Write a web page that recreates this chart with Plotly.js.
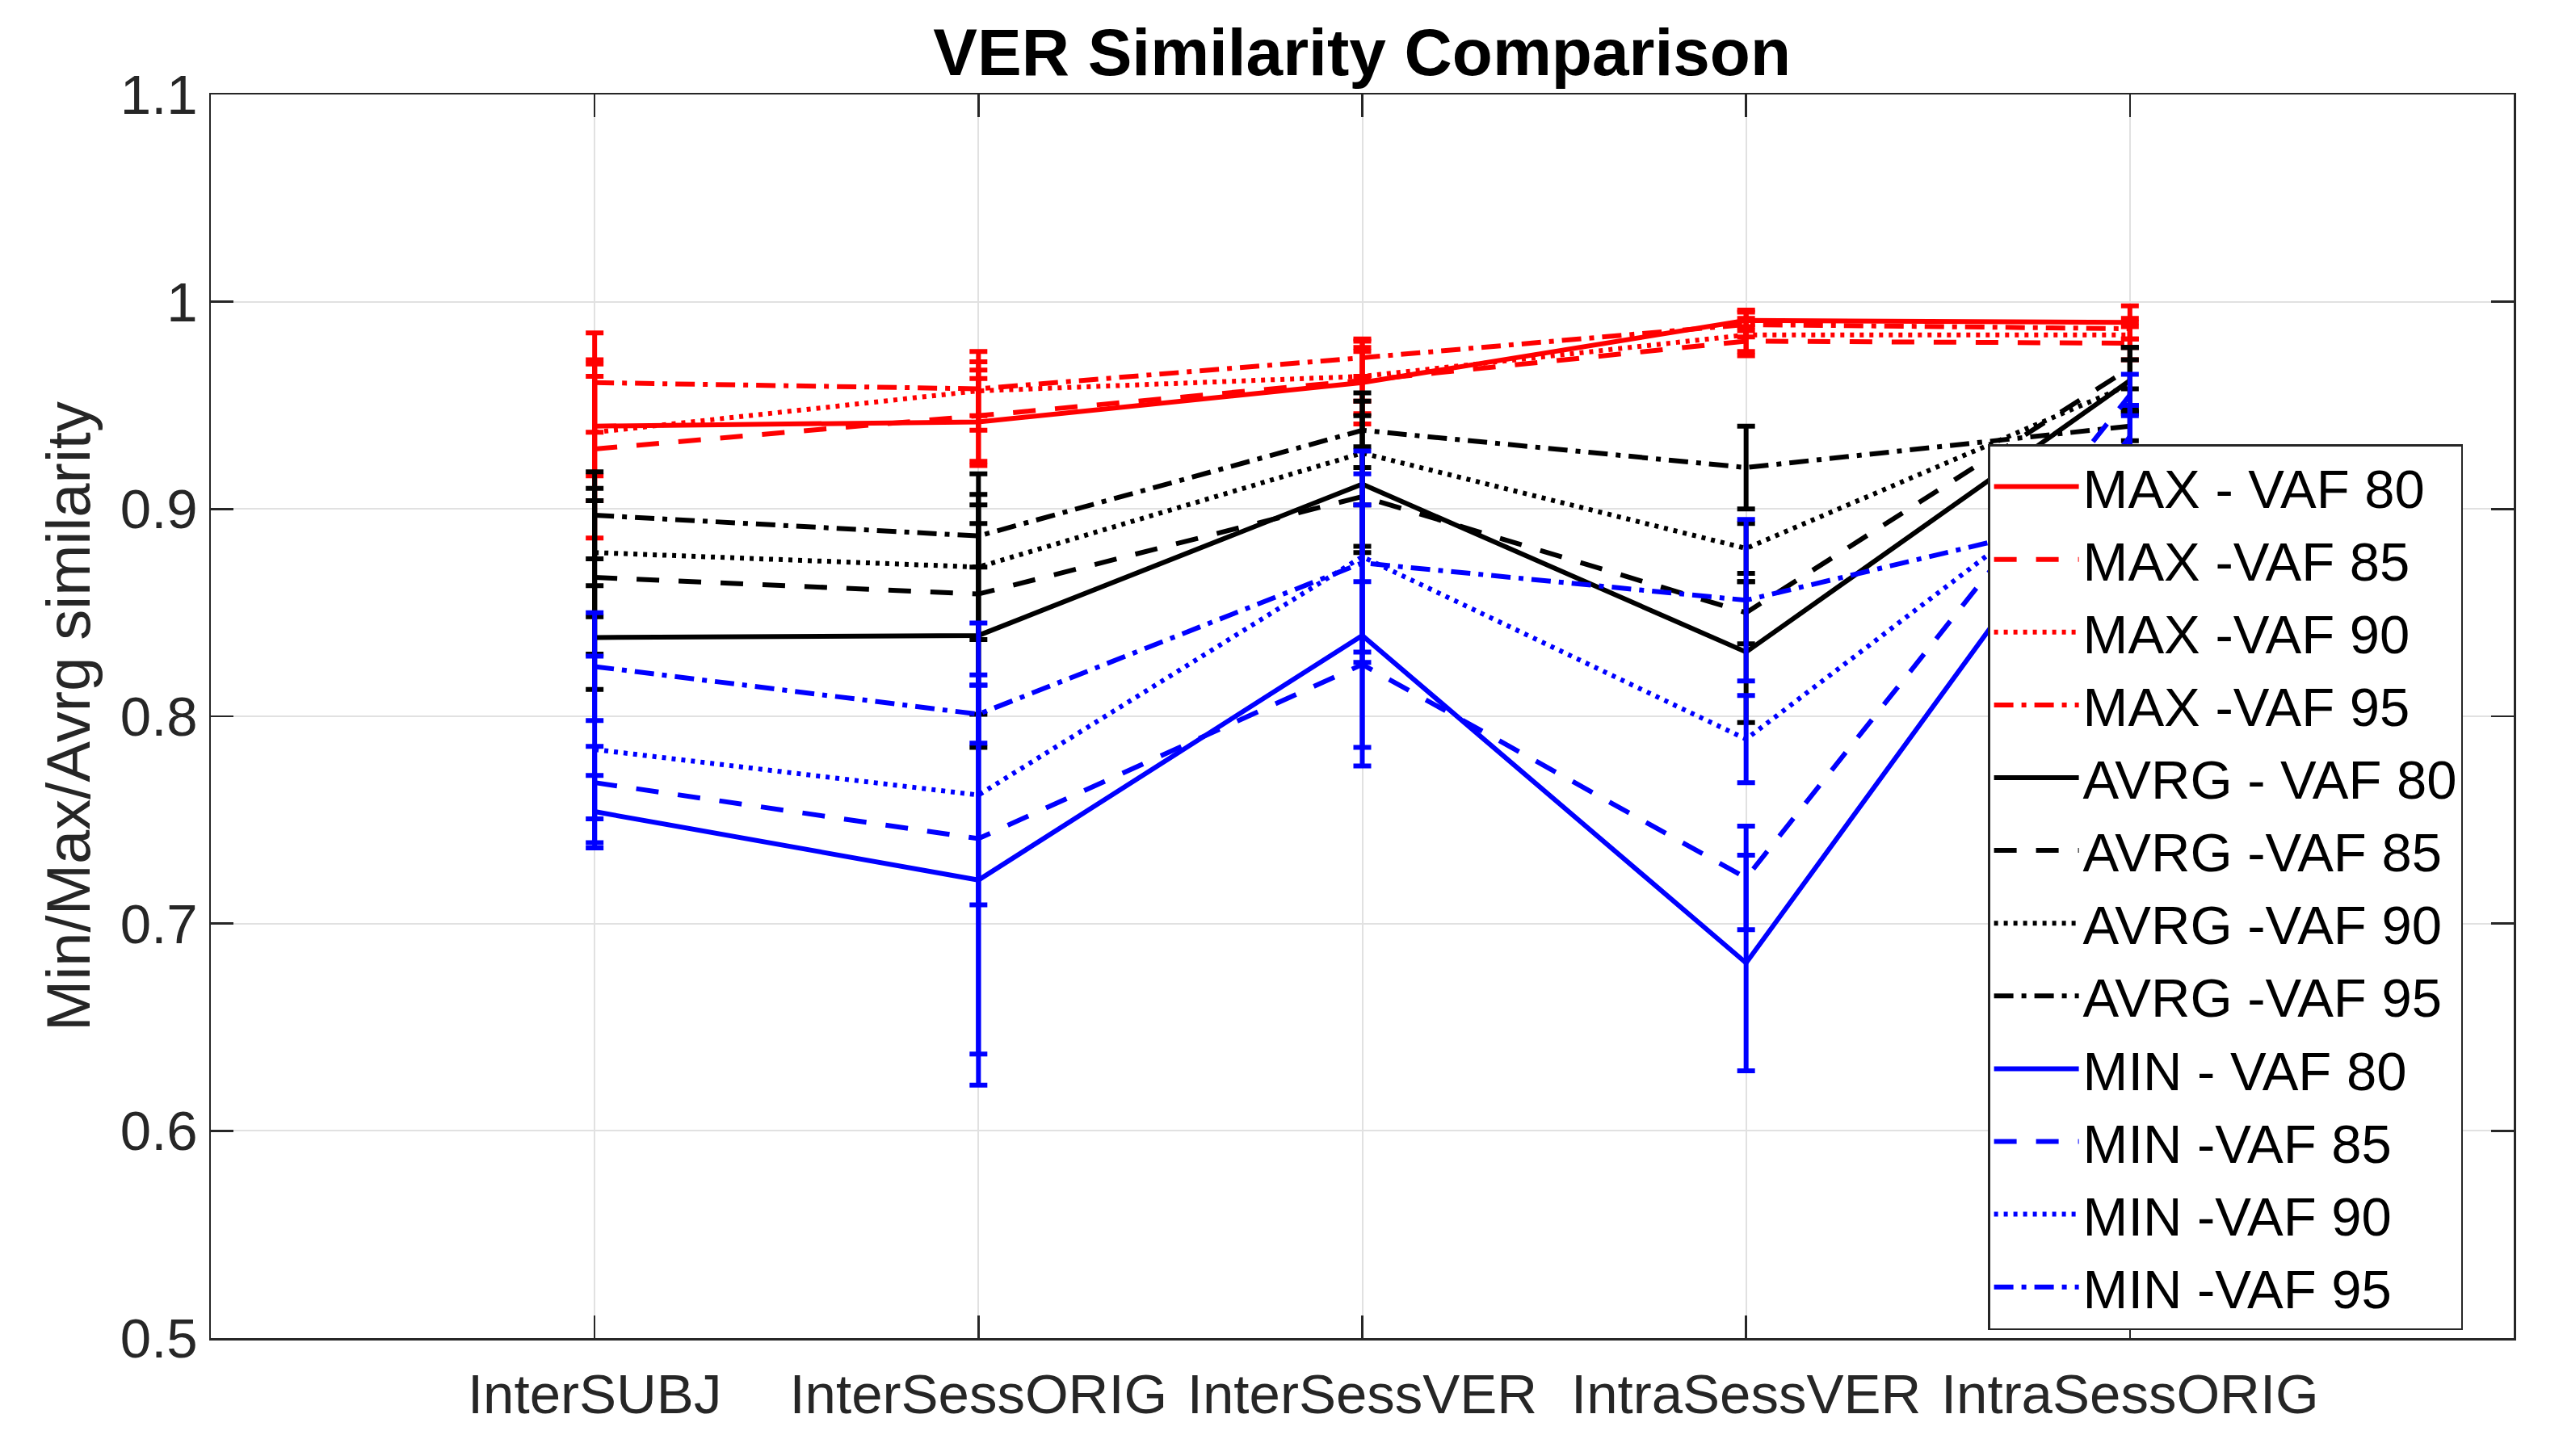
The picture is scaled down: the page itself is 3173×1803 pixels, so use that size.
<!DOCTYPE html>
<html>
<head>
<meta charset="utf-8">
<script src="https://cdn.plot.ly/plotly-3.0.1.min.js"></script>
<style>html,body{margin:0;padding:0;background:#fff;}#chart{width:3173px;height:1803px;}</style>
</head>
<body>
<div id="chart"></div>
<script>
// ---- data ----
var categories = ['InterSUBJ', 'InterSessORIG', 'InterSessVER', 'IntraSessVER', 'IntraSessORIG'];
var seriesNames = ['MAX - VAF 80', 'MAX -VAF 85', 'MAX -VAF 90', 'MAX -VAF 95',
                   'AVRG - VAF 80', 'AVRG -VAF 85', 'AVRG -VAF 90', 'AVRG -VAF 95',
                   'MIN - VAF 80', 'MIN -VAF 85', 'MIN -VAF 90', 'MIN -VAF 95'];

var max80 = [0.940, 0.942, 0.961, 0.991, 0.990];
var max85 = [0.929, 0.945, 0.962, 0.981, 0.980];
var max90 = [0.937, 0.957, 0.964, 0.984, 0.984];
var max95 = [0.961, 0.958, 0.973, 0.989, 0.987];
var avrg80 = [0.838, 0.839, 0.912, 0.831, 0.962];
var avrg85 = [0.867, 0.859, 0.906, 0.850, 0.968];
var avrg90 = [0.879, 0.872, 0.927, 0.881, 0.960];
var avrg95 = [0.897, 0.887, 0.938, 0.920, 0.940];
var min80 = [0.754, 0.721, 0.839, 0.681, 0.935];
var min85 = [0.768, 0.741, 0.825, 0.722, 0.955];
var min90 = [0.784, 0.762, 0.877, 0.789, 0.930];
var min95 = [0.824, 0.801, 0.874, 0.856, 0.900];

var max80Err = [0.024, 0.021, 0.020, 0.005, 0.008];
var max85Err = [0.043, 0.022, 0.016, 0.007, 0.008];
var max90Err = [0.033, 0.019, 0.012, 0.008, 0.006];
var max95Err = [0.024, 0.013, 0.009, 0.006, 0.005];
var avrg80Err = [0.025, 0.054, 0.033, 0.034, 0.016];
var avrg85Err = [0.037, 0.058, 0.024, 0.015, 0.010];
var avrg90Err = [0.031, 0.035, 0.025, 0.012, 0.012];
var avrg95Err = [0.021, 0.015, 0.018, 0.020, 0.007];
var min80Err = [0.0175, 0.099, 0.063, 0.052, 0.015];
var min85Err = [0.0175, 0.104, 0.040, 0.025, 0.010];
var min90Err = [0.045, 0.053, 0.051, 0.021, 0.020];
var min95Err = [0.026, 0.014, 0.043, 0.039, 0.010];

var yTickVals = [0.5, 0.6, 0.7, 0.8, 0.9, 1.0, 1.1];
var yTickText = ['0.5', '0.6', '0.7', '0.8', '0.9', '1', '1.1'];

// ---- styles ----
var values = [max80, max85, max90, max95, avrg80, avrg85, avrg90, avrg95, min80, min85, min90, min95];
var errors = [max80Err, max85Err, max90Err, max95Err, avrg80Err, avrg85Err, avrg90Err, avrg95Err, min80Err, min85Err, min90Err, min95Err];
var groupColors = ['#ff0000', '#000000', '#0000ff'];
var dashes = ['solid', '28px,24px', '5px,7px', '24px,10px,6px,10px'];

var traces = values.map(function (v, i) {
  var col = groupColors[Math.floor(i / 4)];
  return {
    type: 'scatter',
    mode: 'lines',
    x: categories,
    y: v,
    name: seriesNames[i],
    line: {color: col, width: 6, dash: dashes[i % 4]},
    error_y: {type: 'data', array: errors[i], symmetric: true, color: col, thickness: 6, width: 11},
    hoverinfo: 'x+y+name'
  };
});

var axisFont = {family: 'Liberation Sans, Arial, Helvetica, sans-serif', size: 69, color: '#262626'};

var layout = {
  width: 3173,
  height: 1803,
  paper_bgcolor: '#ffffff',
  plot_bgcolor: '#ffffff',
  margin: {l: 261, r: 61, t: 117, b: 146, pad: 0},
  showlegend: true,
  title: {
    text: '<b>VER Similarity Comparison</b>',
    font: {family: 'Liberation Sans, Arial, Helvetica, sans-serif', size: 82, color: '#000000'},
    x: 0.5314, xref: 'container', xanchor: 'center',
    y: 0.9645, yref: 'container', yanchor: 'middle'
  },
  xaxis: {
    type: 'category',
    range: [-1, 5],
    tickmode: 'array',
    tickvals: categories,
    ticktext: categories,
    showgrid: true,
    gridcolor: '#e1e1e1',
    gridwidth: 2,
    zeroline: false,
    showline: true,
    linecolor: '#262626',
    linewidth: 2.5,
    mirror: 'ticks',
    ticks: 'inside',
    ticklen: 28,
    tickwidth: 2.5,
    tickcolor: '#262626',
    tickfont: axisFont,
    ticklabelstandoff: 8
  },
  yaxis: {
    range: [0.5, 1.1],
    tickmode: 'array',
    tickvals: yTickVals,
    ticktext: yTickText,
    showgrid: true,
    gridcolor: '#e1e1e1',
    gridwidth: 2,
    zeroline: false,
    showline: true,
    linecolor: '#262626',
    linewidth: 2.5,
    mirror: 'ticks',
    ticks: 'inside',
    ticklen: 28,
    tickwidth: 2.5,
    tickcolor: '#262626',
    tickfont: axisFont,
    title: {
      text: 'Min/Max/Avrg similarity',
      font: {family: 'Liberation Sans, Arial, Helvetica, sans-serif', size: 76, color: '#262626'},
      standoff: 12
    }
  },
  legend: {
    x: 0.7717, y: 0.7188, xanchor: 'left', yanchor: 'top',
    xref: 'paper', yref: 'paper',
    bgcolor: '#ffffff',
    bordercolor: '#262626',
    borderwidth: 2.5,
    font: {family: 'Liberation Sans, Arial, Helvetica, sans-serif', size: 67, color: '#000000'},
    tracegroupgap: 0,
    itemwidth: 105
  }
};

Plotly.newPlot('chart', traces, layout, {staticPlot: true, displayModeBar: false});
</script>
</body>
</html>
